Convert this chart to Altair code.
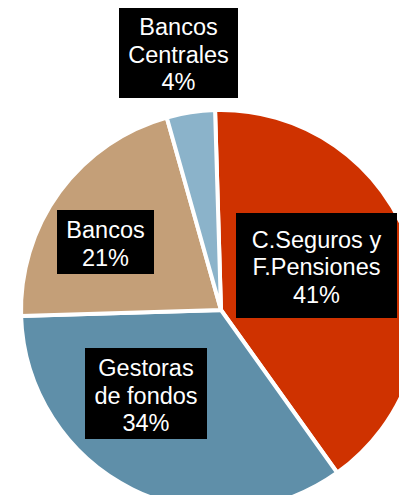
import math
import altair as alt
import pandas as pd

# Data
categories = ["C.Seguros y F.Pensiones", "Gestoras de fondos", "Bancos", "Bancos Centrales"]
shares = [40.6, 34.4, 21.1, 3.9]
pct_labels = ["41%", "34%", "21%", "4%"]
label_names = ["C.Seguros y\nF.Pensiones", "Gestoras\nde fondos", "Bancos", "Bancos\nCentrales"]
colors = ["#CF3200", "#5F8FA9", "#C49F78", "#8BB3CA"]

# Annotation layout (pixels inside the plot area)
box_x = [228, 77, 49, 111]
box_x2 = [389, 199, 146, 230]
box_y = [205, 340, 202, 0]
box_y2 = [310, 431, 266, 90]
text_x = [308.5, 138, 97.5, 170.5]
text_y = [232.5, 361, 223, 20]   # first line position

df = pd.DataFrame({
    "category": categories,
    "share": shares,
    "idx": list(range(len(categories))),
    "label": [n + "\n" + p for n, p in zip(label_names, pct_labels)],
    "bx": box_x, "bx2": box_x2, "by": box_y, "by2": box_y2,
    "tx": text_x, "ty": text_y,
})

start = math.radians(-1.7)

pie = alt.Chart(df).mark_arc(radius=200, stroke="white", strokeWidth=4).encode(
    theta=alt.Theta("share:Q", stack=True,
                    scale=alt.Scale(range=[start, start + 2 * math.pi])),
    color=alt.Color("category:N", scale=alt.Scale(domain=categories, range=colors), legend=None),
    order=alt.Order("idx:Q"),
    x=alt.value(213),
    y=alt.value(302),
)

boxes = alt.Chart(df).mark_rect(color="black").encode(
    x=alt.X("bx:Q", scale=None),
    x2="bx2:Q",
    y=alt.Y("by:Q", scale=None),
    y2="by2:Q",
)

texts = alt.Chart(df).mark_text(
    color="white", font="Liberation Sans, Arial, sans-serif", fontSize=23.5,
    lineBreak="\n", lineHeight=27.7, align="center", baseline="middle",
).encode(
    x=alt.X("tx:Q", scale=None),
    y=alt.Y("ty:Q", scale=None),
    text="label:N",
)

chart = alt.layer(pie, boxes, texts).properties(
    width=391, height=487, padding=0,
    autosize=alt.AutoSizeParams(type="none"),
).configure_view(stroke=None)

chart.save("out.html", embed_options={"renderer": "svg", "actions": False})
